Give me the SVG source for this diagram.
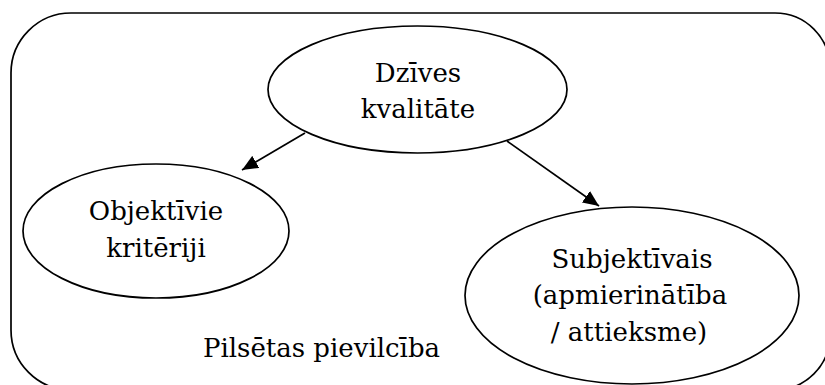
<svg xmlns="http://www.w3.org/2000/svg" width="825" height="385" viewBox="0 0 825 385">
<style>
.n{fill:#fff;stroke:#000;stroke-width:1.7}
.t{font-family:"DejaVu Serif",serif;font-size:26px;fill:#000;text-anchor:middle}
.c{stroke:#000;stroke-width:1.7;fill:none}
</style>
<defs>
<marker id="ah" markerUnits="userSpaceOnUse" markerWidth="18" markerHeight="14" refX="16" refY="7" orient="auto">
<path d="M0,0 L16,7 L0,14 Z" fill="#000"/>
</marker>
</defs>
<g id="boundary">
<path class="c" d="M71,13 H775 A55,55 0 0 1 830,68 V335 A55,55 0 0 1 775,390 H71 A60,60 0 0 1 11,330 V73 A60,60 0 0 1 71,13 Z"/>
<text class="t" x="321.5" y="357">Pilsētas pievilcība</text>
</g>
<g id="connectors">
<line class="c" x1="305" y1="133" x2="242" y2="170" marker-end="url(#ah)"/>
<line class="c" x1="507" y1="141" x2="599" y2="206" marker-end="url(#ah)"/>
</g>
<g id="dzives">
<ellipse class="n" cx="417.5" cy="89.5" rx="149.5" ry="63.5"/>
<text class="t" x="418" y="82">Dzīves</text>
<text class="t" x="418" y="118">kvalitāte</text>
</g>
<g id="objektivie">
<ellipse class="n" cx="156" cy="231" rx="133" ry="67"/>
<text class="t" x="156" y="220">Objektīvie</text>
<text class="t" x="156" y="257">kritēriji</text>
</g>
<g id="subjektivais">
<ellipse class="n" cx="632" cy="295.5" rx="167" ry="88.5"/>
<text class="t" x="632" y="268">Subjektīvais</text>
<text class="t" x="630" y="304">(apmierinātība</text>
<text class="t" x="629" y="341">/ attieksme)</text>
</g>
</svg>
